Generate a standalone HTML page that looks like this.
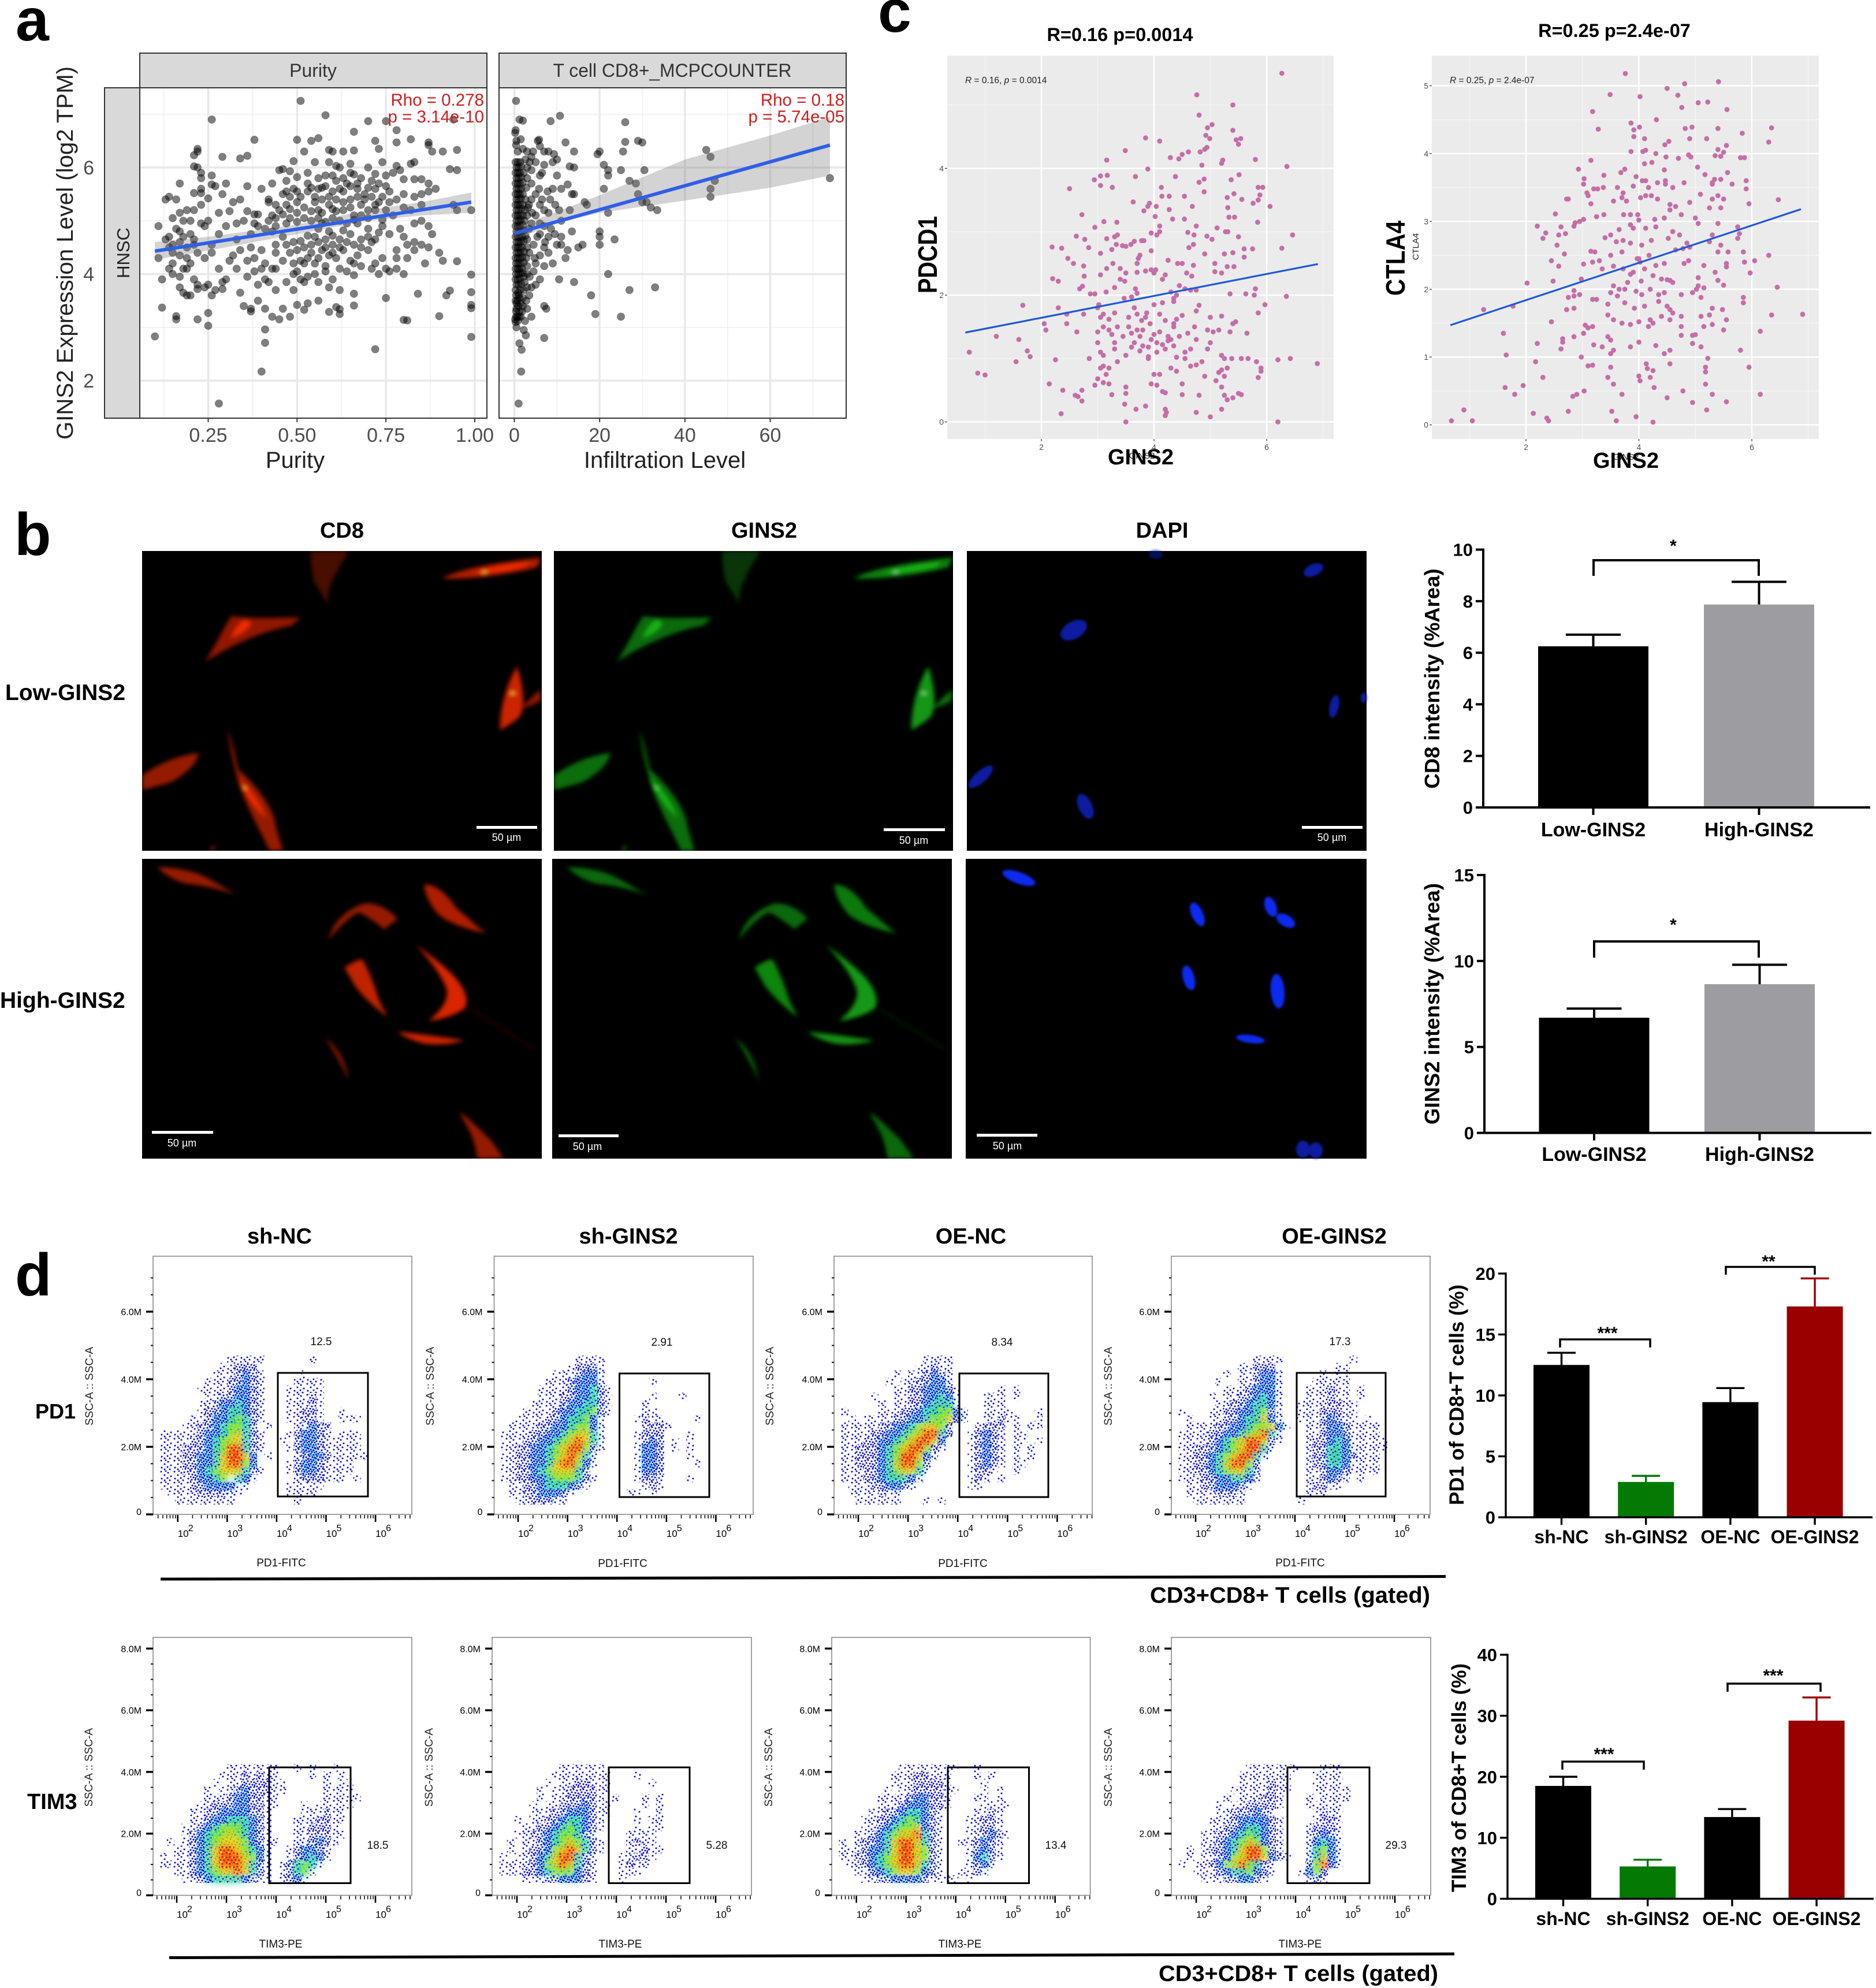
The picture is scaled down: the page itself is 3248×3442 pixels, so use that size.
<!DOCTYPE html>
<html lang="en">
<head>
<meta charset="utf-8">
<title>GINS2 figure</title>
<style>
html,body{margin:0;padding:0;background:#fff}
svg{display:block}
text{font-family:"Liberation Sans",sans-serif;fill:#000}
.b{font-weight:700}
.mid{text-anchor:middle}
.end{text-anchor:end}
.panel{font-size:104px;font-weight:700}
.grey{fill:#4d4d4d}
.red{fill:#cc1f1f;font-size:29.5px;text-anchor:end}
.fl{font-size:19px;text-anchor:middle;fill:#111}
.ssc{font-size:19px;text-anchor:middle;fill:#222}
.scale{font-size:18px;fill:#fff;text-anchor:middle}
.col{font-size:38px;font-weight:700;text-anchor:middle}
.lab{font-size:39px;font-weight:700}
.star{font-size:30px;font-weight:700;text-anchor:middle}
</style>
</head>
<body>
<svg id="figure" xmlns="http://www.w3.org/2000/svg" width="3248" height="3442" viewBox="0 0 3248 3442">
<defs>
<pattern id="flow-level-1" patternUnits="userSpaceOnUse" width="23" height="19"><path d="M3 2h.01M11 1h.01M15 4h.01M9 8h.01M20 10h.01M4 14h.01M14 13h.01M18 17h.01M9 17h.01" stroke="#0808d8" stroke-width="3" stroke-linecap="round"/></pattern>
<pattern id="flow-level-2" patternUnits="userSpaceOnUse" width="17" height="19"><path d="M2 2h.01M7 1h.01M13 3h.01M4 6h.01M10 7h.01M15 8h.01M1 10h.01M7 11h.01M12 12h.01M3 15h.01M9 16h.01M15 16h.01M6 18h.01M16 13h.01" stroke="#0606d4" stroke-width="3.1" stroke-linecap="round"/></pattern>
<pattern id="flow-level-3" patternUnits="userSpaceOnUse" width="13" height="17"><path d="M1 2h.01M5 1h.01M10 3h.01M3 5h.01M8 7h.01M12 8h.01M1 9h.01M5 11h.01M10 12h.01M2 14h.01M7 15h.01M12 16h.01" stroke="#0608d0" stroke-width="3.2" stroke-linecap="round"/><path d="M7 4h.01M11 5h.01M7 12h.01" stroke="#18c4ea" stroke-width="2.8" stroke-linecap="round"/></pattern>
<pattern id="flow-level-4" patternUnits="userSpaceOnUse" width="13" height="17"><path d="M2 3h.01M9 6h.01M4 11h.01M11 14h.01M7 16h.01" stroke="#0a22d0" stroke-width="3" stroke-linecap="round"/><path d="M6 2h.01M12 3h.01M2 8h.01M7 10h.01M12 9h.01M1 15h.01" stroke="#20d0a0" stroke-width="3" stroke-linecap="round"/></pattern>
<pattern id="flow-level-5" patternUnits="userSpaceOnUse" width="13" height="17"><path d="M2 3h.01M8 2h.01M12 7h.01M5 8h.01M1 12h.01M9 13h.01" stroke="#c8e428" stroke-width="3" stroke-linecap="round"/><path d="M10 10h.01M4 15h.01" stroke="#12a8c8" stroke-width="2.8" stroke-linecap="round"/></pattern>
<pattern id="flow-level-6" patternUnits="userSpaceOnUse" width="13" height="17"><path d="M3 2h.01M9 5h.01M2 9h.01M7 11h.01M12 14h.01" stroke="#f08a14" stroke-width="3" stroke-linecap="round"/><path d="M11 1h.01M5 15h.01" stroke="#48d840" stroke-width="2.8" stroke-linecap="round"/></pattern>
<pattern id="flow-level-7" patternUnits="userSpaceOnUse" width="13" height="17"><path d="M2 3h.01M8 2h.01M5 7h.01M11 8h.01M2 12h.01M8 14h.01" stroke="#e41410" stroke-width="3.2" stroke-linecap="round"/><path d="M12 3h.01M6 11h.01" stroke="#e8e428" stroke-width="2.8" stroke-linecap="round"/></pattern>
<filter id="soft" x="-20%" y="-20%" width="140%" height="140%"><feGaussianBlur stdDeviation="2.6 5"/></filter>
<filter id="soft-dapi" x="-30%" y="-30%" width="160%" height="160%"><feGaussianBlur stdDeviation="2"/></filter>
<filter id="flow-colour" x="-15%" y="-15%" width="130%" height="130%"><feGaussianBlur stdDeviation="6"/></filter>
<g id="cells-row-1" fill="currentColor">
<path d="M191 0L234 0C225 30 218 55 212 85L209 125C204 100 198 85 194 70C192 45 190 20 191 0Z" opacity=".3"/>
<path d="M339 65C360 40 400 28 451 15L447 38C420 52 380 66 339 65Z" opacity=".72"/><path d="M372 52C395 35 420 30 440 24L432 38C410 48 390 54 372 52Z"/>
<path d="M71 260C85 215 92 180 101 152C125 160 155 155 179 156L169 175C140 185 100 220 71 260Z" opacity=".6"/><path d="M100 205C104 185 108 170 116 160C130 165 120 190 100 205Z"/>
<path d="M405 420C404 380 410 320 424 270C430 310 434 350 428 385C422 400 412 410 405 420Z" opacity=".85"/>
<path d="M429 370C436 350 444 335 451 325L451 350C445 358 436 365 429 370Z" opacity=".6"/>
<path d="M0 560L0 525C15 505 35 480 64 473C62 500 50 520 34 540C20 550 8 555 0 560Z" opacity=".62"/>
<path d="M97 418C104 460 106 490 109 512C125 540 145 590 150 630C152 660 158 685 159 702L144 702C135 660 125 625 118 590C110 555 100 480 97 418Z" opacity=".62"/><path d="M108 530C120 550 135 590 140 625C130 610 115 570 108 530Z"/>
<path d="M75 702L82 685L82 702Z" opacity=".5"/>
<circle cx="387" cy="50" r="3" style="fill:var(--spot)"/><circle cx="419" cy="333" r="3" style="fill:var(--spot)"/><circle cx="116" cy="555" r="2.5" style="fill:var(--spot)"/>
</g>
<g id="cells-row-2" fill="currentColor">
<path d="M17 20C30 18 50 25 64 35C80 50 95 70 107 85C90 72 70 62 50 58C35 50 25 35 17 20Z" opacity=".62"/>
<path d="M211 190C215 150 230 120 250 105C265 100 280 120 289 140L274 165C265 150 255 135 245 125C235 135 222 160 211 190Z" opacity=".62"/>
<path d="M319 60C330 58 345 80 355 115C370 140 380 160 389 175C370 165 350 155 335 130C325 105 320 85 319 60Z" opacity=".72"/>
<path d="M229 255C235 245 245 235 249 235C256 260 262 290 268 330C272 350 276 360 277 370C265 350 250 325 240 295Z" opacity=".8"/>
<path d="M309 200C325 225 345 255 355 280C365 305 370 330 365 350C355 365 340 375 324 380C335 360 345 340 345 310C340 275 325 235 309 200Z" opacity=".9"/>
<path d="M369 350L444 445" stroke="currentColor" stroke-width="2" opacity=".3"/>
<path d="M289 405C305 408 325 412 364 425C350 435 330 437 318 432C305 425 295 415 289 405Z" opacity=".85"/>
<path d="M207 418C220 440 230 465 234 520C228 495 220 465 207 418Z" opacity=".5"/>
<path d="M359 592C372 612 385 640 395 660L409 702L379 702C378 680 375 660 372 645C368 625 362 610 359 592Z" opacity=".62"/>
</g>
</defs>

<rect width="3248" height="3442" fill="#fff"/>

<!-- PANEL LETTERS -->
<text class="panel" x="27" y="70">a</text>
<text class="panel" x="1520" y="55">c</text>
<text class="panel" x="25" y="961">b</text>
<text class="panel" x="26" y="2243">d</text>

<!-- PANEL A -->
<g>
<rect x="242" y="92" width="601" height="60" fill="#d9d9d9" stroke="#333" stroke-width="2"/>
<rect x="864" y="92" width="601" height="60" fill="#d9d9d9" stroke="#333" stroke-width="2"/>
<rect x="181" y="152" width="61" height="572" fill="#d9d9d9" stroke="#333" stroke-width="2"/>
<text class="mid" x="542" y="133" font-size="32" style="fill:#333">Purity</text>
<text class="mid" x="1164" y="133" font-size="32" textLength="413" lengthAdjust="spacingAndGlyphs" style="fill:#333">T cell CD8+_MCPCOUNTER</text>
<text class="mid" transform="translate(224,438) rotate(-90)" font-size="31" style="fill:#222">HNSC</text>
<text class="mid" transform="translate(126,438) rotate(-90)" font-size="40" textLength="646" lengthAdjust="spacingAndGlyphs" style="fill:#222">GINS2 Expression Level (log2 TPM)</text>
<g id="a1-plot"></g>
<g id="a2-plot"></g>
<rect x="242" y="152" width="601" height="572" fill="none" stroke="#333" stroke-width="2"/>
<rect x="864" y="152" width="601" height="572" fill="none" stroke="#333" stroke-width="2"/>
<text class="red" x="838" y="183">Rho = 0.278</text>
<text class="red" x="838" y="212">p = 3.14e-10</text>
<text class="red" x="1462" y="183">Rho = 0.18</text>
<text class="red" x="1462" y="212">p = 5.74e-05</text>
<text class="mid" x="511" y="810" font-size="40" style="fill:#222">Purity</text>
<text class="mid" x="1151" y="810" font-size="40" style="fill:#222">Infiltration Level</text>
</g>

<!-- PANEL C -->
<g>
<text class="b mid" x="1939" y="71" font-size="32.5">R=0.16 p=0.0014</text>
<text class="b mid" x="2795" y="64" font-size="32.5">R=0.25 p=2.4e-07</text>
<g id="c1-plot"></g>
<g id="c2-plot"></g>
<text x="1671" y="144" font-size="15.5" style="fill:#222"><tspan font-style="italic">R</tspan> = 0.16, <tspan font-style="italic">p</tspan> = 0.0014</text>
<text x="2510" y="144" font-size="15.5" style="fill:#222"><tspan font-style="italic">R</tspan> = 0.25, <tspan font-style="italic">p</tspan> = 2.4e-07</text>
<text class="mid" x="1977" y="794" font-size="15" style="fill:#222">GINS2</text>
<text class="mid" x="2815" y="796" font-size="15" style="fill:#222">GINS2</text>
<text class="mid" transform="translate(2456,427) rotate(-90)" font-size="15" style="fill:#222">CTLA4</text>
<text class="b mid" x="1975" y="804" font-size="38">GINS2</text>
<text class="b mid" x="2815" y="810" font-size="38">GINS2</text>
<text class="b mid" transform="translate(1622,441) rotate(-90)" font-size="46" textLength="134" lengthAdjust="spacingAndGlyphs">PDCD1</text>
<text class="b mid" transform="translate(2432,447) rotate(-90)" font-size="46" textLength="130" lengthAdjust="spacingAndGlyphs">CTLA4</text>
</g>

<!-- PANEL B IMAGES -->
<g>
<text class="col" x="592" y="931">CD8</text>
<text class="col" x="1323" y="931">GINS2</text>
<text class="col" x="2012" y="931">DAPI</text>
<text class="lab" x="9" y="1212">Low-GINS2</text>
<text class="lab" x="0" y="1745">High-GINS2</text>

<rect x="246" y="954" width="692" height="519" fill="#000"/>
<rect x="959" y="954" width="691" height="519" fill="#000"/>
<rect x="1674" y="954" width="692" height="519" fill="#000"/>
<rect x="246" y="1487" width="692" height="519" fill="#000"/>
<rect x="956" y="1487" width="692" height="519" fill="#000"/>
<rect x="1672" y="1487" width="694" height="519" fill="#000"/>

<svg x="246" y="954" width="692" height="519" viewBox="0 0 452 702" preserveAspectRatio="none"><use href="#cells-row-1" filter="url(#soft)" style="color:#f02a00;--spot:#ffd840"/></svg>
<svg x="959" y="954" width="691" height="519" viewBox="0 0 452 702" preserveAspectRatio="none"><use href="#cells-row-1" filter="url(#soft)" style="color:#14b014;--spot:#90ff90"/></svg>
<svg x="246" y="1487" width="692" height="519" viewBox="0 0 452 702" preserveAspectRatio="none"><use href="#cells-row-2" filter="url(#soft)" style="color:#f02a00;--spot:#ffd840"/></svg>
<svg x="956" y="1487" width="692" height="519" viewBox="0 0 452 702" preserveAspectRatio="none"><use href="#cells-row-2" filter="url(#soft)" style="color:#14a814;--spot:#90ff90"/></svg>

<g fill="#0a1ca0" filter="url(#soft-dapi)">
<ellipse cx="2001" cy="960" rx="12" ry="8" opacity=".55"/>
<ellipse transform="rotate(-25 2274 987)" cx="2274" cy="987" rx="18" ry="10"/>
<ellipse transform="rotate(-30 1859 1091)" cx="1859" cy="1091" rx="25" ry="15"/>
<ellipse transform="rotate(12 2310 1223)" cx="2310" cy="1223" rx="8" ry="20"/>
<ellipse cx="2361" cy="1208" rx="5" ry="9"/>
<ellipse transform="rotate(-42 1698 1345)" cx="1698" cy="1345" rx="27" ry="10"/>
<ellipse transform="rotate(-25 1879 1396)" cx="1879" cy="1396" rx="12" ry="23"/>
</g>
<g fill="#0a2cf0" filter="url(#soft-dapi)">
<ellipse transform="rotate(20 1764 1520)" cx="1764" cy="1520" rx="30" ry="10"/>
<ellipse transform="rotate(-25 2073 1583)" cx="2073" cy="1583" rx="10" ry="22"/>
<ellipse transform="rotate(-20 2200 1570)" cx="2200" cy="1570" rx="10" ry="18"/>
<ellipse transform="rotate(30 2226 1594)" cx="2226" cy="1594" rx="18" ry="10"/>
<ellipse transform="rotate(-15 2058 1693)" cx="2058" cy="1693" rx="10" ry="22"/>
<ellipse transform="rotate(-5 2212 1716)" cx="2212" cy="1716" rx="12" ry="30"/>
<ellipse transform="rotate(8 2165 1799)" cx="2165" cy="1799" rx="25" ry="7"/>
<ellipse cx="2256" cy="1990" rx="12" ry="15" fill="#0a1ca0"/>
<ellipse cx="2278" cy="1992" rx="12" ry="14" fill="#0a1ca0"/>
</g>

<rect x="825" y="1430" width="105" height="5" fill="#fff"/>
<text class="scale" x="877" y="1456">50 µm</text>
<rect x="1530" y="1434" width="106" height="5" fill="#fff"/>
<text class="scale" x="1582" y="1461">50 µm</text>
<rect x="2254" y="1430" width="105" height="5" fill="#fff"/>
<text class="scale" x="2306" y="1456">50 µm</text>
<rect x="263" y="1958" width="106" height="5" fill="#fff"/>
<text class="scale" x="315" y="1985">50 µm</text>
<rect x="967" y="1964" width="104" height="5" fill="#fff"/>
<text class="scale" x="1017" y="1991">50 µm</text>
<rect x="1691" y="1963" width="105" height="5" fill="#fff"/>
<text class="scale" x="1744" y="1990">50 µm</text>
</g>

<!-- PANEL B BARS -->
<g>
<g id="cd8-bars"></g>
<g id="gins2-bars"></g>
<text class="b mid" transform="translate(2492,1175) rotate(-90)" font-size="36" textLength="381" lengthAdjust="spacingAndGlyphs">CD8 intensity (%Area)</text>
<text class="b mid" transform="translate(2492,1738) rotate(-90)" font-size="36" textLength="418" lengthAdjust="spacingAndGlyphs">GINS2 intensity (%Area)</text>
<path d="M2759 997V970H3045V997" fill="none" stroke="#000" stroke-width="4"/>
<text class="star" x="2897" y="955">*</text>
<path d="M2760 1658V1630H3045V1658" fill="none" stroke="#000" stroke-width="4"/>
<text class="star" x="2897" y="1611">*</text>
</g>

<!-- PANEL D -->
<g>
<text class="col" x="484" y="2153">sh-NC</text>
<text class="col" x="1088" y="2153">sh-GINS2</text>
<text class="col" x="1681" y="2153">OE-NC</text>
<text class="col" x="2310" y="2153">OE-GINS2</text>
<text class="b" x="61" y="2456" font-size="36">PD1</text>
<text class="b" x="47" y="3132" font-size="38">TIM3</text>

<g id="flow-plots"></g>

<!-- gates -->
<g fill="none" stroke="#000" stroke-width="3">
<rect x="481" y="2377" width="156" height="214"/>
<rect x="1072.5" y="2378" width="155.5" height="214"/>
<rect x="1661" y="2378" width="154" height="214"/>
<rect x="2245" y="2377" width="154" height="214"/>
<rect x="466" y="3060" width="141" height="200.5"/>
<rect x="1054" y="3060" width="140" height="200.5"/>
<rect x="1641" y="3060" width="140.5" height="200.5"/>
<rect x="2229" y="3060" width="142" height="200.5"/>
</g>

<text class="fl" x="556" y="2329" font-size="18">12.5</text>
<text class="fl" x="1146" y="2330">2.91</text>
<text class="fl" x="1735" y="2330">8.34</text>
<text class="fl" x="2320" y="2329">17.3</text>
<text class="fl" x="654" y="3201">18.5</text>
<text class="fl" x="1241" y="3201">5.28</text>
<text class="fl" x="1828" y="3201">13.4</text>
<text class="fl" x="2417" y="3201">29.3</text>

<text class="fl" x="487" y="2712">PD1-FITC</text>
<text class="fl" x="1078" y="2713">PD1-FITC</text>
<text class="fl" x="1667" y="2713">PD1-FITC</text>
<text class="fl" x="2251" y="2712">PD1-FITC</text>
<text class="fl" x="486" y="3372">TIM3-PE</text>
<text class="fl" x="1074" y="3372">TIM3-PE</text>
<text class="fl" x="1662" y="3372">TIM3-PE</text>
<text class="fl" x="2251" y="3372">TIM3-PE</text>

<text class="ssc" transform="translate(161,2400) rotate(-90)">SSC-A :: SSC-A</text>
<text class="ssc" transform="translate(751,2400) rotate(-90)">SSC-A :: SSC-A</text>
<text class="ssc" transform="translate(1339,2400) rotate(-90)">SSC-A :: SSC-A</text>
<text class="ssc" transform="translate(1925,2400) rotate(-90)">SSC-A :: SSC-A</text>
<text class="ssc" transform="translate(160,3060) rotate(-90)">SSC-A :: SSC-A</text>
<text class="ssc" transform="translate(749,3060) rotate(-90)">SSC-A :: SSC-A</text>
<text class="ssc" transform="translate(1337,3060) rotate(-90)">SSC-A :: SSC-A</text>
<text class="ssc" transform="translate(1925,3060) rotate(-90)">SSC-A :: SSC-A</text>

<path d="M278 2734L2503 2729.5" stroke="#000" stroke-width="5" fill="none"/>
<path d="M293 3389.5L2518 3383" stroke="#000" stroke-width="5" fill="none"/>
<text class="b" x="1991" y="2775" font-size="39" textLength="485" lengthAdjust="spacingAndGlyphs">CD3+CD8+ T cells (gated)</text>
<text class="b" x="2006" y="3430" font-size="39" textLength="484" lengthAdjust="spacingAndGlyphs">CD3+CD8+ T cells (gated)</text>

<g id="pd1-bars"></g>
<g id="tim3-bars"></g>
<text class="b mid" transform="translate(2534,2415) rotate(-90)" font-size="35" textLength="382" lengthAdjust="spacingAndGlyphs">PD1 of CD8+T cells (%)</text>
<text class="b mid" transform="translate(2538,3078) rotate(-90)" font-size="35" textLength="396" lengthAdjust="spacingAndGlyphs">TIM3 of CD8+T cells (%)</text>
<path d="M2701 2333V2319H2857V2333" fill="none" stroke="#000" stroke-width="3.5"/>
<text class="star" x="2783" y="2318">***</text>
<path d="M2988 2207V2193.5H3142V2207" fill="none" stroke="#000" stroke-width="3.5"/>
<text class="star" x="3062" y="2194">**</text>
<path d="M2705 3064V3050H2846V3064" fill="none" stroke="#000" stroke-width="3.5"/>
<text class="star" x="2777" y="3047">***</text>
<path d="M2991 2929V2915H3152V2929" fill="none" stroke="#000" stroke-width="3.5"/>
<text class="star" x="3070" y="2911">***</text>
</g>
</svg>

<script>
/* ---------- panel a: purity scatter [purity, log2 TPM] ---------- */
const purityPoints=[[.28,1.57],[.10,2.83],[.40,2.17],[.41,2.71],[.41,2.96],[.72,2.59],[.99,2.82],[.25,3.03],[.22,3.15],[.16,3.15],[.16,3.21],[.12,3.37],[.25,3.27],[.35,3.40],[.37,3.35],[.39,3.5],[.37,3.3],[.41,3.35],[.43,3.2],[.45,3.15],[.46,3.35],[.48,3.2],[.50,3.42],[.52,3.33],[.53,3.45],[.56,3.5],[.59,3.29],[.61,3.38],[.62,3.25],[.62,3.34],[.66,3.41],[.66,3.63],[.75,3.55],[.80,3.14],[.81,3.13],[.84,3.63],[.90,3.21],[.92,3.6],[.93,3.69],[.99,3.36],[.99,3.42],[.99,3.66],[.99,3.99],[.95,4.24],
[.51,7.25],[.58,6.98],[.26,6.9],[.75,6.87],[.70,6.87],[.94,6.9],[.78,6.7],[.66,6.67],[.38,6.52],[.50,6.52],[.54,6.5],[.56,6.55],[.72,6.5],[.78,6.47],[.82,6.53],[.87,6.47],[.87,6.42],[.73,6.35],[.22,6.35],[.22,6.3],[.21,6.23],[.29,6.2],[.34,6.17],[.36,6.22],[.59,6.33],[.60,6.3],[.63,6.3],[.66,6.32],[.88,6.3],[.91,6.3],[.95,6.33],[.52,6.3],[.49,6.12],[.55,6.1],[.59,6.1],[.61,6.03],[.62,6.0],[.65,6.07],[.70,6.0],[.74,6.1],[.78,6.03],[.82,6.07],[.83,6.1],[.21,6.02],[.22,6.0],[.23,5.9],[.26,5.85],[.30,5.7],[.17,5.7],[.23,5.8],
[.45,5.95],[.46,5.97],[.48,5.93],[.66,5.87],[.68,5.8],[.72,5.88],[.75,5.85],[.77,5.9],[.79,5.95],[.80,5.78],[.83,5.78],[.85,5.78],[.87,5.7],[.93,5.97],[.95,5.95],[.21,5.52],[.23,5.6],[.23,5.52],[.26,5.68],[.29,5.5],[.27,5.65],[.13,5.4],[.14,5.45],[.16,5.4],[.25,5.42],[.42,5.4],[.42,5.35],[.44,5.3],[.46,5.5],[.47,5.75],[.49,5.6],[.5,5.55],[.51,5.45],[.53,5.7],[.54,5.62],[.56,5.6],[.57,5.62],[.58,5.65],[.60,5.55],[.62,5.6],[.63,5.55],[.64,5.7],[.65,5.65],[.67,5.7],[.69,5.5],[.7,5.62],[.72,5.6],[.74,5.45],[.76,5.55],[.78,5.4],[.8,5.5],[.83,5.45],[.85,5.5],[.87,5.55],[.89,5.6],[.94,5.3],[.95,5.2],[.99,5.2],
[.17,5.15],[.19,5.2],[.21,5.2],[.23,5.3],[.28,5.15],[.31,5.18],[.36,5.18],[.38,5.12],[.39,5.12],[.43,5.1],[.45,5.2],[.47,5.3],[.48,5.05],[.5,5.15],[.52,5.25],[.54,5.18],[.55,5.35],[.56,5.2],[.57,5.15],[.59,5.3],[.6,5.22],[.61,5.18],[.63,5.2],[.65,5.25],[.66,5.1],[.68,5.3],[.7,5.05],[.72,5.2],[.75,5.2],[.77,5.1],[.8,5.25],[.82,5.2],[.85,5.3],
[.11,4.9],[.13,4.65],[.14,4.7],[.16,4.85],[.17,4.8],[.18,4.7],[.2,4.75],[.21,4.65],[.23,4.95],[.24,4.9],[.26,4.55],[.28,4.75],[.33,4.65],[.37,4.5],[.38,4.95],[.39,4.9],[.41,4.85],[.43,4.8],[.44,4.9],[.46,4.7],[.47,4.95],[.49,4.6],[.51,4.62],[.53,4.72],[.55,4.7],[.56,4.85],[.57,4.95],[.58,4.65],[.59,4.8],[.6,4.72],[.62,4.5],[.63,4.82],[.65,4.75],[.67,4.95],[.68,4.5],[.7,4.85],[.71,4.6],[.73,4.78],[.74,4.9],[.76,4.75],[.78,4.45],[.8,4.7],[.81,4.55],[.83,4.6],[.85,4.55],[.87,4.5],[.88,4.75],
[.11,4.3],[.14,4.5],[.15,4.4],[.17,4.35],[.19,4.3],[.2,4.2],[.22,4.4],[.24,4.3],[.26,4.4],[.32,4.35],[.34,4.45],[.36,4.25],[.38,4.3],[.4,4.45],[.41,4.2],[.43,4.1],[.44,4.4],[.46,4.25],[.48,4.4],[.49,4.2],[.51,4.25],[.53,4.3],[.55,4.2],[.57,4.45],[.59,4.35],[.61,4.3],[.63,4.45],[.65,4.25],[.67,4.35],[.7,4.45],[.72,4.2],[.74,4.3],[.76,4.05],[.78,4.1],[.81,4.3],[.83,4.45],[.91,4.25],
[.12,3.9],[.15,4.0],[.17,3.95],[.19,4.1],[.21,3.9],[.22,3.8],[.24,3.75],[.25,3.8],[.29,3.85],[.3,3.9],[.39,3.8],[.41,3.9],[.44,4.1],[.47,3.85],[.49,3.7],[.5,4.05],[.51,3.9],[.52,3.85],[.55,4.0],[.58,4.05],[.6,3.9],[.66,3.98],[.73,4.0],[.75,4.1],[.8,4.0],[.17,3.75],[.18,3.65],[.19,3.6],[.2,3.6],[.22,3.72],[.29,3.72],[.34,3.65],
[.42,5.0],[.44,5.05],[.46,5.12],[.48,5.22],[.5,4.98],[.52,5.05],[.54,5.0],[.56,5.05],[.58,4.98],[.6,5.05],[.62,5.0],[.64,4.95],[.66,5.02],[.68,5.1],[.7,5.2],[.72,5.3],[.74,5.02],[.76,5.35],[.44,4.55],[.47,4.55],[.5,4.45],[.52,4.5],[.54,4.55],[.56,4.6],[.58,4.5],[.6,4.55],[.62,4.65],[.64,4.6],[.66,4.55],[.68,4.65],[.7,4.7],[.72,4.65],[.55,5.45],[.57,5.4],[.59,5.45],[.61,5.4],[.63,5.35],[.65,5.4],[.67,5.45],[.69,5.4],[.71,5.45],[.73,5.35],[.53,5.55],[.48,5.45],[.5,5.35],[.61,5.75],[.63,5.8],[.65,5.9],[.67,5.6],[.71,5.75],[.73,5.7],[.75,5.65],[.6,5.85],[.58,5.85],[.56,5.8],[.53,5.9],[.5,5.82],[.47,5.55],[.52,4.2],[.54,4.4],[.56,4.3],[.58,4.15],[.6,4.4],[.62,4.1],[.64,4.05],[.66,4.2],[.68,4.15],[.71,4.1],[.49,4.0],[.53,3.95],[.56,3.85],[.59,3.75],[.62,3.7],[.44,3.7],[.42,3.85],[.4,4.1],[.38,4.05],[.36,3.95],[.33,4.1],[.31,4.25],[.28,4.1],[.27,3.7],[.26,3.6],[.15,4.2],[.18,4.1],[.14,4.1],[.21,4.55],[.19,4.5],[.17,4.6],[.15,4.55],[.3,4.9],[.33,4.95],[.35,5.0],[.37,4.75],[.25,5.0],[.2,5.0],[.18,5.0],[.15,5.05],[.32,5.35],[.34,5.4],[.36,5.65],[.4,5.6],[.43,5.7],[.85,5.0],[.87,4.9],[.83,4.95],[.79,4.85],[.9,4.4],[.86,4.2],[.78,4.3]];
const purityLineX=[.1,.99];
const purityLineY=[4.43,5.35];
const purityRibbonX=[.1,.25,.5,.7,.85,.99];
const purityRibbonLow=[4.27,4.44,4.75,5.0,5.1,5.15];
const purityRibbonHigh=[4.6,4.7,4.93,5.2,5.35,5.53];
const purityTicks=[.25,.5,.75,1];
const purityTickLabels=['0.25','0.50','0.75','1.00'];
const purityMinorTicks=[.125,.375,.625,.875];
const expressionTicks=[2,4,6];
const expressionMinorTicks=[3,5,7];

/* ---------- panel a: CD8 infiltration scatter [level, log2 TPM] ---------- */
const infiltrationPoints=[[.4,7.25],[1.2,6.9],[2,6.88],[8.5,6.87],[10.7,6.97],[26,6.85],[.2,6.65],[.3,6.7],[1.5,6.53],[5.5,6.5],[5.8,6.52],[.5,6.5],[.4,6.42],[12,6.47],[14,6.3],[26,6.48],[29,6.5],[30,6.47],[.8,6.3],[2,6.35],[3,6.3],[6,6.4],[7,6.3],[8,6.3],[9.3,6.25],[20,6.3],[19.5,6.25],[25.5,6.3],[45,6.33],[46,6.2],[4,6.2],[5,6.1],[7,6.05],[9,6.1],[10,6.15],[13,6.02],[14,6.0],
[21,6.05],[22,5.95],[22,5.85],[25,5.95],[30.5,5.95],[21,5.6],[28.5,5.7],[29,5.5],[27,5.75],[46,5.6],[47,5.75],[46,5.45],[30,5.35],[31,5.35],[32,5.25],[33.5,5.2],[22,5.15],[16.5,5.35],[17,5.3],[14,5.5],[13.5,5.5],[20,4.8],[20,4.7],[20,4.55],[23.5,4.65],[22,4.0],[33,3.75],[27,3.7],[18,3.6],[19,3.25],[25,3.2],[14,3.85],[10.5,3.9],[74,5.8],
[1,1.57],[1.6,2.17],[1.7,2.58],[1.2,2.7],[2.7,2.85],[2.2,2.95],[7,2.8],[.5,3.0],[.3,3.1],[.8,3.12],[2.5,3.12],[1.5,3.2],[4,3.2],[.4,3.2],[1.2,3.3],[3,3.35],[7,3.4],[7.5,3.35],[.5,3.35],[2,3.4],
[.2,3.15],[.7,3.2],[1.1,3.2],[.4,3.3],[.9,3.4],[1.5,3.45],[.3,3.5],[.7,3.5],[1.2,3.55],[2,3.55],[2.8,3.5],[3.5,3.6],[.4,3.6],[.9,3.65],[1.4,3.7],[.3,3.7],[2.2,3.7],[3,3.75],[4,3.75],[.5,3.8],[1,3.8],[1.6,3.82],[5,3.8],[6,3.9],[.3,3.9],[.8,3.9],[1.3,3.92],[2.2,3.95],[.4,4.0],[.9,4.0],[1.4,4.02],[2,4.02],[3,4.0],[4.5,4.05],[.3,4.1],[.8,4.1],[1.2,4.1],[1.8,4.1],[3,4.15],[.4,4.2],[.9,4.2],[1.4,4.2],[2.2,4.22],[5,4.2],[7,4.15],[9,4.2],[.3,4.3],[.8,4.3],[1.3,4.3],[1.9,4.32],[2.8,4.3],[.5,4.4],[1,4.4],[1.5,4.4],[2.3,4.42],[3.5,4.4],[6,4.35],[8,4.4],[12,4.3],[.3,4.5],[.8,4.5],[1.2,4.5],[1.8,4.5],[3,4.5],[4.5,4.55],[7,4.5],[10,4.55],[15,4.5],[16,4.55],[.5,4.6],[1,4.6],[1.5,4.6],[2.2,4.62],[3,4.65],[.3,4.7],[.8,4.7],[1.2,4.7],[1.8,4.7],[2.6,4.72],[6,4.75],[8,4.7],[11,4.7],[13.5,4.8],[.5,4.8],[1,4.8],[1.5,4.82],[2.2,4.82],[3.5,4.85],[.3,4.9],[.8,4.9],[1.3,4.9],[2,4.92],[4,4.95],[7,4.9],[11,5.0],[.5,5.0],[1,5.0],[1.5,5.02],[2.4,5.0],[.3,5.1],[.8,5.1],[1.3,5.1],[2,5.1],[3,5.1],[5,5.1],[8,5.15],[10.5,5.2],[13,5.2],[.5,5.2],[1,5.2],[1.6,5.22],[2.5,5.2],[.3,5.3],[.8,5.3],[1.3,5.3],[2,5.3],[3.4,5.3],[6,5.3],[6.5,5.4],[.5,5.4],[1,5.4],[1.5,5.42],[2.6,5.4],[4,5.4],[.3,5.5],[.8,5.5],[1.3,5.5],[2,5.5],[.5,5.6],[1,5.6],[1.6,5.6],[2.8,5.62],[9,5.6],[11,5.6],[12.5,5.68],[.3,5.7],[.8,5.7],[1.3,5.7],[2,5.72],[4,5.7],[.5,5.8],[1,5.8],[1.6,5.82],[3,5.8],[.3,5.9],[.8,5.9],[1.3,5.9],[2.2,5.9],[.5,6.0],[1,6.0],[1.6,6.02],[.3,6.1],[.8,6.1],[1.4,6.1],[3,6.0],[6.5,5.9],[6,5.85],[4,5.95],[10,5.85],[.5,3.45],[1,3.6],[1.8,3.3],[2.4,3.85],[3.6,3.95],[4.8,4.3],[5.4,4.7],[6,4.95],[7.2,4.6],[8.6,4.85],[9.5,4.75],[11,4.55],[12.5,4.45],[3.2,5.25],[4.2,5.15],[5,5.5],[5.8,5.6],[7,5.2],[7.8,5.55],[8.4,5.4],[9.6,5.3],[3.6,6.1],[4.4,6.3],[2.6,6.15]];
const infiltrationLineX=[0,74];
const infiltrationLineY=[4.76,6.42];
const infiltrationRibbonX=[0,10,20,40,60,74];
const infiltrationRibbonLow=[4.65,4.95,5.15,5.38,5.62,5.85];
const infiltrationRibbonHigh=[4.87,5.17,5.48,6.15,6.6,6.95];
const infiltrationTicks=[0,20,40,60];
const infiltrationMinorTicks=[10,30,50,70];

/* ---------- panel c: PDCD1 vs GINS2 ---------- */
const pdcd1Points=[[6.27,5.5],[4.76,5.16],[5.4,5],[4.8,4.84],[5.03,4.69],[4.95,4.64],[5.4,4.6],[4.92,4.52],[3.85,4.48],[4.1,4.43],[4.99,4.47],[5.54,4.47],[5.46,4.45],[5.5,4.38],[3.49,4.28],[4.94,4.33],[4.9,4.3],[4.82,4.26],[4.61,4.26],[4.5,4.22],[4.29,4.17],[4.44,4.15],[3.16,4.13],[5.22,4.13],[5.2,4.08],[5.8,4.14],[4.85,4.05],[6.36,4.03],[3.89,3.99],[3.05,3.88],[3.17,3.89],[2.94,3.82],[3.67,3.87],[4.38,3.87],[5.51,3.9],[5.37,3.82],[4.89,3.83],[4.8,3.78],[3.05,3.73],[4.13,3.7],[3.26,3.7],[2.5,3.68],[5.85,3.7],[5.93,3.7],[4.89,3.63],[5.88,3.58],[5.42,3.6],[4.54,3.56],[4.14,3.56],[4.27,3.56],[5.3,3.54],[5.56,3.51],[5.85,3.5],[3.63,3.47],[3.92,3.45],[5.76,3.45],[3.89,3.4],[4.04,3.4],[4.68,3.4],[6.06,3.4],[5.31,3.38],[3.82,3.33],[4.27,3.35],[2.72,3.27],[4.02,3.24],[5.33,3.23],[5.43,3.23],[4.54,3.2],[4.33,3.2],[3.11,3.16],[3.34,3.15],[5.84,3.15],[2.95,3.07],[4.75,3.09],[4.1,3.09],[5.12,3.06],[4.1,3],[3.95,2.98],[4.05,2.95],
[5.27,3],[5.31,3],[4.6,2.99],[4.71,2.95],[3.35,2.95],[3.3,2.92],[6.46,2.95],[2.62,2.93],[2.77,2.88],[3.16,2.89],[3.65,2.85],[3.78,2.86],[3.82,2.86],[4.94,2.93],[5.03,2.88],[5.5,2.92],[5.08,2.5],[3.59,2.8],[3.5,2.77],[3.33,2.8],[2.19,2.76],[2.36,2.74],[4.7,2.8],[4.62,2.75],[2.84,2.75],[3.25,2.72],[3.44,2.78],[5.6,2.73],[5.75,2.73],[6.27,2.74],[4.9,2.65],[5.25,2.65],[5.4,2.67],[5.6,2.6],[3.05,2.66],[3.75,2.63],[3.95,2.7],[4.25,2.55],[3.72,2.58],[2.47,2.58],[2.57,2.5],[2.75,2.46],[3.27,2.5],[3.7,2.5],[4.42,2.5],[4.5,2.5],[4.7,2.47],[5.3,2.45],[5.42,2.45],[3.16,2.42],[3.4,2.42],[3.95,2.4],[4.03,2.4],[4,2.35],[3.85,2.38],[3.7,2.36],[2.76,2.3],[3.05,2.32],[3.5,2.35],[4.58,2.35],[4.2,2.32],[4.67,2.3],[5.08,2.37],[5.2,2.35],[4.15,2.25],[3.4,2.25],[3.48,2.22],[2.73,2.14],[2.68,2.1],[3.3,2.12],[2.2,2.26],[2.3,2.22],[3.67,2.1],[3.7,2.03],[4.45,2.15],[4.55,2.1],[4.65,2.08],[4.75,2.08],[2.87,2.02],[2.95,2.02],[3.15,2.05],[3.6,1.97],[3.47,1.95],[5.35,2.02],[5.63,2.02],[5.8,2.1],[5.78,2],[6.35,1.98],[4.3,2.05],[4.4,2],[4.35,1.95],[5.97,1.85],[5.85,1.72],
[3.02,1.85],[3,1.8],[3.1,1.7],[2.3,1.8],[1.67,1.84],[2.45,1.7],[2.75,1.7],[3.05,1.65],[3.65,1.8],[3.87,1.72],[4,1.85],[4.15,1.88],[4.35,1.9],[4.8,1.84],[4.75,1.75],[4.5,1.68],[4.1,1.7],[3.85,1.65],[3.78,1.6],[3.93,1.55],[4.2,1.6],[5,1.65],[5.2,1.67],[5.4,1.55],[5.45,1.58],[3.1,1.5],[2.45,1.55],[2.05,1.55],[2.08,1.45],[2.63,1.42],[3.2,1.45],[3.55,1.5],[3.7,1.45],[4.35,1.55],[4.35,1.5],[4.72,1.5],[4.95,1.45],[5.05,1.42],[5.15,1.45],[5.35,1.42],[5.65,1.4],[3.0,1.42],[3.25,1.38],[3.6,1.4],[3.75,1.35],[4,1.38],[4.25,1.35],[4.3,1.3],[4.45,1.35],[4.75,1.3],[5.0,1.25],[1.2,1.35],[1.6,1.3],[3.0,1.25],[3.3,1.25],[3.65,1.25],[3.8,1.2],[4.05,1.25],[4.15,1.22],[4.25,1.28],[4.65,1.15],[4.55,1.1],[3.3,1.15],[3.75,1.12],[4.05,1.1],[4.95,1.15],[1.75,1.12],[.72,1.1],[1.8,1.03],[3.05,1.1],[3.1,1.05],[2.85,1],[3.5,1.05],[3.9,1.03],[3.9,1],[4.4,1.02],[4.55,1],[5.2,1.05],[5.25,1],[5.38,1],[5.55,1],[5.67,1],[2.25,.98],[1.55,.95],[3.35,.95],[4.85,.95],[5.82,.95],[6.2,.98],[6.42,1],[6.9,.92],[3.1,.88],[3.05,.85],[3.2,.85],[4.3,.85],[4.65,.88],[4.75,.9],[5.2,.82],[5.3,.85],[5.9,.85],[3.15,.75],[4.4,.8],[5.15,.78],[5.25,.72],[5.9,.8],[.87,.77],[1,.74],[4,.75],[4.1,.75],[4.9,.72],[5.1,.65],[5.85,.7],[3,.68],[3.1,.62],[3.2,.6],[3.95,.6],[4.05,.58],[4.5,.6],[2.14,.6],[2.95,.58],[3.5,.55],[5.2,.55],[2.38,.5],[2.72,.5],[2.6,.42],[2.65,.4],[3.25,.43],[3.5,.45],[4.15,.48],[4.2,.46],[4.5,.43],[4.8,.42],[5.25,.42],[5.4,.38],[5.5,.45],[5.55,.43],[2.72,.33],[3.48,.28],[3.68,.2],[3.85,.25],[4.2,.2],[4.22,.15],[4.2,.1],[4.75,.15],[5.0,.08],[5.2,.2],[5.3,.35],[2.35,.13],[3.5,0],[6.2,0],[3.8,1.45],[3.95,1.3],[4.1,1.42],[4.2,1.15],[4.35,1.2],[3.6,1.18],[3.45,1.35],[3.35,1.5],[3.2,1.62],[3.9,1.18],[4.4,1.62],[4.6,1.4],[3.7,1.7],[3.3,1.72],[3.55,1.65]];
const pdcd1LineX=[.65,6.91];
const pdcd1LineY=[1.41,2.49];
const pdcd1MajorX=[2,4,6];
const pdcd1MinorX=[1,3,5,7];
const pdcd1MajorY=[0,2,4];
const pdcd1MinorY=[1,3,5];

/* ---------- panel c: CTLA4 vs GINS2 ---------- */
const ctla4Points=[[3.76,5.18],[5.41,5.06],[4.5,4.96],[4.81,5.03],[3.49,4.87],[4.02,4.84],[4.69,4.86],[5.05,4.75],[5.22,4.76],[4.76,4.68],[5.56,4.65],[3.18,4.62],[4.31,4.5],[3.86,4.45],[4.01,4.39],[3.91,4.35],[3.28,4.36],[4.82,4.37],[4.94,4.39],[5.4,4.37],[6.35,4.38],[5.83,4.3],[3.91,4.25],[4.1,4.22],[4.9,4.22],[5.2,4.22],[6.3,4.17],[4.53,4.18],[4.46,4.13],[5.55,4.12],[5.4,4.06],[3.86,4.03],[4.07,4.03],[4.12,4.05],[4.3,4],[5.5,4.02],[4.88,3.98],[5.35,3.97],[5.45,3.96],[5.8,3.94],[5.87,3.94],[4.48,3.95],[4.7,3.93],[3.15,3.9],[4.92,3.95],[4.1,3.85],[4.23,3.87],[5.04,3.8],[2.93,3.77],[4.45,3.76],[3.68,3.72],[3.75,3.77],[5.17,3.69],[5.57,3.72],[3.38,3.68],[3.95,3.66],[3.03,3.63],[4.06,3.6],[4.12,3.6],[5.34,3.62],[5.45,3.62],[5.9,3.6],[3.27,3.48],[4.33,3.57],[4.47,3.55],[4.8,3.57],[5.3,3.57],[5.65,3.55],[3.02,3.55],[3.2,3.48],[3.37,3.5],[3.62,3.5],[3.9,3.52],[4.17,3.5],[4.47,3.6],[4.6,3.5],[5.3,3.55],[5.9,3.48],[3.72,3.42],[3.08,3.42],[3.1,3.38],[4.12,3.38],[4.22,3.38],[5.09,3.4],[5.4,3.38],[5.5,3.33],[2.72,3.33],[2.75,3.33],[3.7,3.35],[3.55,3.3],[4.03,3.35],[4.33,3.33],[5.3,3.33],[6.47,3.32],[3.15,3.26],[3.78,3.3],[4.9,3.28],[5.95,3.26],[2.52,3.11],[3.38,3.1],[3.25,3.07],[3.73,3.1],[3.85,3.1],[3.98,3.1],[4.55,3.25],[4.55,3.17],[4.65,3.22],[4.75,3.1],[5.0,3.05],[5.25,3.2],[5.45,3.2],[2.87,2.98],[2.95,3],[3.02,3.03],[4.0,3.02],[4.28,3.03],[4.45,3.05],[5.05,2.97],[5.4,2.97],[5.75,2.92],[2.2,2.93],[2.62,2.92],[2.85,2.93],[3.5,2.8],[3.65,2.88],[3.85,2.95],[3.9,2.9],[4.12,2.9],[4.3,2.92],[4.6,2.85],[4.72,2.8],[5.3,2.8],[5.78,2.82],[2.35,2.83],[2.7,2.82],[2.58,2.8],[3.4,2.76],[3.6,2.7],[3.72,2.72],[3.85,2.68],[4.05,2.65],[4.22,2.72],[4.52,2.75],[4.85,2.68],[4.9,2.62],[5.25,2.7],[5.45,2.65],[5.75,2.75],[2.3,2.75],[2.55,2.65],[3.15,2.56],[3.22,2.55],[3.5,2.5],[3.7,2.55],[3.97,2.45],[4.18,2.5],[4.65,2.58],[4.78,2.6],[5.4,2.55],[5.58,2.55],[5.85,2.55],[6.3,2.5],[2.68,2.52],[2.45,2.42],[3.02,2.37],[3.18,2.4],[3.3,2.42],[3.55,2.34],[3.85,2.22],[4,2.45],[4.02,2.4],[4.3,2.35],[4.45,2.38],[4.8,2.38],[4.88,2.42],[5.15,2.35],[5.55,2.38],[5.87,2.4],[6.05,2.42],[2.58,2.34],[3.35,2.3],[3.72,2.3],[3.9,2.25],[4.1,2.3],[4.25,2.2],[4.4,2.15],[4.5,2.14],[5.05,2.17],[5.35,2.25],[5.55,2.33],[5.97,2.24],[2.48,2.12],[2.98,2.15],[3.55,2.05],[3.65,2],[3.75,2],[3.8,2.1],[4.04,2.12],[4.55,2.13],[4.6,2.1],[5.05,2.05],[5.15,2.02],[5.4,2.13],[5.5,2.06],[6.45,2.03],[2.02,2.09],[2.85,1.98],[3.5,1.95],[3.62,1.9],[3.95,1.97],[4.05,1.92],[4.2,2],[4.35,1.92],[4.45,1.95],[4.75,1.92],[4.95,1.95],[5.02,2],[5.1,1.88],[5.85,1.88],[2.75,1.88],[2.85,1.9],[2.95,1.92],[3.18,1.85],[3.25,1.85],[4.35,1.82],[4.5,1.75],[4.55,1.7],[5.48,1.7],[5.85,1.8],[1.25,1.7],[1.77,1.75],[3.45,1.78],[3.75,1.8],[3.92,1.72],[4.1,1.75],[4.6,1.65],[4.75,1.6],[5.1,1.6],[5.25,1.62],[5.3,1.72],[5.55,1.55],[6.35,1.62],[6.9,1.63],[2.72,1.7],[2.85,1.72],[2.45,1.52],[3.45,1.62],[3.55,1.55],[3.7,1.5],[3.85,1.48],[4,1.52],[4.2,1.55],[4.25,1.5],[4.17,1.45],[4.4,1.6],[4.55,1.55],[4.75,1.45],[5.0,1.33],[5.15,1.45],[5.3,1.48],[5.5,1.4],[6.15,1.38],[1.6,1.35],[3.05,1.47],[3.1,1.43],[3.18,1.45],[3.02,1.35],[2.65,1.27],[2.65,1.22],[2.85,1.3],[3.45,1.3],[3.5,1.25],[4.75,1.32],[4.95,1.32],[2.2,1.2],[3.2,1.18],[3.35,1.15],[3.55,1.1],[4,1.22],[3.85,1.15],[4.3,1.17],[4.45,1.05],[4.55,1.1],[4.95,1.2],[5.1,1.15],[5.8,1.1],[1.65,1.03],[2.62,1.12],[2.98,1],[3.1,.87],[3.18,.88],[3.5,1.05],[4.13,.9],[4.15,.83],[4.25,.8],[4.55,.9],[5.22,.98],[2.17,.93],[3.5,.85],[5.18,.85],[5.18,.78],[5.95,.85],[2.3,.7],[3.45,.7],[3.55,.6],[4,.72],[4.02,.65],[4.2,.7],[4.27,.55],[4.5,.4],[4.78,.5],[1.95,.58],[1.63,.55],[1.8,.45],[3.03,.5],[2.9,.45],[2.83,.42],[3.7,.45],[5.18,.6],[5.3,.45],[6.15,.45],[4.95,.33],[5.55,.34],[2.75,.2],[3.52,.2],[5.2,.22],[.9,.22],[2.13,.17],[2.37,.1],[2.4,.06],[1.05,.06],[.68,.06],[3.6,.06],[3.95,.12],[4.25,.04]];
const ctla4LineX=[.66,6.87];
const ctla4LineY=[1.47,3.18];
const ctla4MajorX=[2,4,6];
const ctla4MinorX=[1,3,5,7];
const ctla4MajorY=[0,1,2,3,4,5];
const ctla4MinorY=[.5,1.5,2.5,3.5,4.5];

/* ---------- bar charts ---------- */
const intensityCategories=['Low-GINS2','High-GINS2'];
const cd8Values=[6.25,7.87];
const cd8Errors=[.45,.88];
const cd8Ticks=[0,2,4,6,8,10];
const gins2IntensityValues=[6.7,8.65];
const gins2IntensityErrors=[.53,1.13];
const gins2IntensityTicks=[0,5,10,15];
const knockCategories=['sh-NC','sh-GINS2','OE-NC','OE-GINS2'];
const pd1Values=[12.5,2.9,9.45,17.3];
const pd1Errors=[1.0,.5,1.15,2.3];
const pd1BarTicks=[0,5,10,15,20];
const tim3Values=[18.5,5.3,13.4,29.2];
const tim3Errors=[1.5,1.1,1.3,3.8];
const tim3BarTicks=[0,10,20,30,40];

/* ---------- flow cytometry density (0-7), rows top to bottom, columns by log fluorescence ---------- */
const flowDecades=[2,3,4,5,6];
const pd1FlowTicks=[0,2,4,6];
const tim3FlowTicks=[0,2,4,6,8];
const pd1ShNcDensity=["..........11111......1",".........11222","........1112321.....1",".......11122321....1111","......111123321...11111",".......11223321...11121","......112334321...11121","......122344321...11221..1",".....1123345421...11221..111","....1122345542 1...11322",".11111233456421...123321.111",".11112234566421..1.233211111",".11122234577421...1233211111",".1112233467763 1...1233211111",".1112233467753....123321111",".11122345666421...123321111",".111123345 431.....1222111.1",".111122333311.....11111","..1111222211......1111","...11111111........1"];
const pd1ShGins2Density=["...........1111","..........12221","........1112331",".......11123331......1","......1111233421","......1112233421.....1...1",".....11112334421....1","....111123344521....11","...111122344531....1211....1","..1111223345531.....1221",".11112233456641....1222...1",".11122334567641....1232.1.1",".11223345677521....1332.1.1",".1122334567641.....1332...1",".1122334677531.....1332....1",".112234566642......1332",".1122334555421.....1221...1","..11223444321.......121","..112233321.......11.1","...1122211"];
const pd1OeNcDensity=["............1111","...........11211","........1.112321",".......1.1122331","........112233321.....1.1",".....1..112233431...111.1","......1.112234441...111",".1....111223445531..1111...1","..1.11112233455631..11211..1",".111112233456652...1222.1.11",".111122334567742..12321.11",".11122334567763...12321.11.1",".11222345677521...12321.1.1",".1122234577631....12321.1.1",".112223467752.....12321.11",".111223456641.....1221..1",".11122344431......121.1","..111223321.......11","..1111211","...111111...1.1"];
const pd1OeGins2Density=["...........1111.........1",".........11222........11",".......1.112331.....1.11","......1..112331....11111",".......11123331...111211.1",".....1.11223431...111211.1","......112234431..11112211",".1...1122334521..11122211","..1..1122344631..11123211.1","..11112233455631..1123321111",".11112233456741...1123321111",".11112345677621...12234311111",".1122234567741....12244311111",".112234567741.....1224432111",".11223467752......1224431111",".11223456642......1123321111",".11122334431......112321.1","..112233321.......12211","..11112221........111","...1111111.......1"];
const tim3ShNcDensity=["..........1111111..1.1..1",".........11121211....1.1.1","........1.11222211.....1.11",".......1.112322211.....1111",".......1112332211......11111","......11222332211...1.11111",".....11223333221....111211",".....11233444321...1112211","....112345554321...112221","....123455654321...1122211","..1.1234566653211..112321","...1123467765431..123321",".1.1123467776531..123431",".111123467776421.124541","...1123456676421.12451","....112344443211.1231"];
const tim3ShGins2Density=[".........111111","........11111111...1",".......1.1122111.....1","......1.11222211","......1.1122221.1...1.1",".....1.112223211....1.1",".....11122333211...1..1","...1.1122344321....1.11","....11223454321....1.11","...11223455421....1111","..1.11234565421...1211","..1.12235676421...11211",".1.11234677421...11221",".1111235676421...1211",".1112234555321...111","....1112233321...1"];
const tim3OeNcDensity=[".........11111111..1","........11122111...1.1","........11122221....1",".......1.11222211...1.1","......1111233221...11.1","......1112333221....1111",".....1122344321....1121","....11223454321...11221","....11234556321...11221","...112345667421...112321",".1.122346776421..112321",".11123346776521...12321",".11223456776521...13421","..1123456776421...1231","...112345665321..1121","....1122333321111.1"];
const tim3OeGins2Density=["..........1111111...111",".........1111111...1111",".........1111211...1111","........11111211...11111",".......1.111221...1.1111","......1.1122221...11111","......11222321.....1211",".....1112333321....1221",".....1122344321...12221","....11223454321...12321","....11234565321...13431","..1.12234677521...14531","..1.112356776321..14631",".1.11235675421....25731","...11123445321...1352","....111223321.....121"];

/* ---------- helpers ---------- */
const NS='http://www.w3.org/2000/svg';
function mk(tag,attrs,parent,txt){
  const el=document.createElementNS(NS,tag);
  for(const k in attrs) el.setAttribute(k,attrs[k]);
  if(txt!==undefined) el.textContent=txt;
  parent.appendChild(el);
  return el;
}
function linear(d0,r0,d1,r1){return v=>r0+(v-d0)*(r1-r0)/(d1-d0);}
const $=id=>document.getElementById(id);

/* ---------- scatter panels a ---------- */
function drawFacet(gid,key,xScale,yScale,L,R,T,B,majorX,minorX,xLabels,pts,lineX,lineY,ribX,ribLow,ribHigh,showY){
  const g=$(gid);
  minorX.forEach(v=>{
    const l=mk('line',{x1:xScale(v),x2:xScale(v),y1:T,y2:B,stroke:'#f0f0f0','stroke-width':1.8},g);
    
    
  });
  expressionMinorTicks.forEach(v=>{
    const l=mk('line',{x1:L,x2:R,y1:yScale(v),y2:yScale(v),stroke:'#f0f0f0','stroke-width':1.8},g);
    
    
  });
  majorX.forEach((v,i)=>{
    const l=mk('line',{x1:xScale(v),x2:xScale(v),y1:T,y2:B,stroke:'#e8e8e8','stroke-width':3.4},g);
    
    
    const t=mk('line',{x1:xScale(v),x2:xScale(v),y1:B,y2:B+8,stroke:'#333','stroke-width':2},g);
    
    
    const lab=mk('text',{x:xScale(v),y:765,'font-size':34,class:'mid grey'},g,xLabels[i]);
    
    
  });
  expressionTicks.forEach(v=>{
    const l=mk('line',{x1:L,x2:R,y1:yScale(v),y2:yScale(v),stroke:'#e8e8e8','stroke-width':3.4},g);
    
    
    if(showY){
      const lab=mk('text',{x:163,y:yScale(v)+12,'font-size':34,class:'end grey'},g,String(v));
      
      
    }
  });
  pts.forEach(p=>{
    const c=mk('circle',{cx:xScale(p[0]),cy:yScale(p[1]),r:6.6,fill:'rgba(0,0,0,.5)',stroke:'rgba(0,0,0,.25)','stroke-width':1},g);
    
    
  });
  let d='';
  ribX.forEach((v,i)=>{d+=(i?'L':'M')+xScale(v)+' '+yScale(ribHigh[i]);});
  for(let i=ribX.length-1;i>=0;i--){d+='L'+xScale(ribX[i])+' '+yScale(ribLow[i]);}
  const rib=mk('path',{d:d+'Z',fill:'rgba(110,110,110,.3)'},g);
  
  
  const ln=mk('line',{x1:xScale(lineX[0]),y1:yScale(lineY[0]),x2:xScale(lineX[1]),y2:yScale(lineY[1]),stroke:'#2f5fe8','stroke-width':6},g);
  
  
}
const expressionY=linear(2,659,6,290);
drawFacet('a1-plot','purity',linear(.25,360.5,1,822),expressionY,243,842,153,723,purityTicks,purityMinorTicks,purityTickLabels,purityPoints,purityLineX,purityLineY,purityRibbonX,purityRibbonLow,purityRibbonHigh,true);
drawFacet('a2-plot','infiltration',linear(0,890.5,60,1333.5),expressionY,865,1464,153,723,infiltrationTicks,infiltrationMinorTicks,infiltrationTicks.map(String),infiltrationPoints,infiltrationLineX,infiltrationLineY,infiltrationRibbonX,infiltrationRibbonLow,infiltrationRibbonHigh,false);

/* ---------- scatter panels c ---------- */
function drawGG(gid,key,xScale,yScale,L,R,T,B,majX,minX,majY,minY,pts,lineX,lineY){
  const g=$(gid);
  const bg=mk('rect',{x:L,y:T,width:R-L,height:B-T,fill:'#ebebeb'},g);
  
  
  minX.forEach(v=>{
    const l=mk('line',{x1:xScale(v),x2:xScale(v),y1:T,y2:B,stroke:'#f6f6f6','stroke-width':1.3},g);
    
    
  });
  minY.forEach(v=>{
    const l=mk('line',{x1:L,x2:R,y1:yScale(v),y2:yScale(v),stroke:'#f6f6f6','stroke-width':1.3},g);
    
    
  });
  majX.forEach(v=>{
    const l=mk('line',{x1:xScale(v),x2:xScale(v),y1:T,y2:B,stroke:'#fff','stroke-width':2.4},g);
    
    
    const tk=mk('line',{x1:xScale(v),x2:xScale(v),y1:B,y2:B+4,stroke:'#333','stroke-width':1.2},g);
    
    
    const lab=mk('text',{x:xScale(v),y:B+19,'font-size':14,class:'mid grey'},g,String(v));
    
    
  });
  majY.forEach(v=>{
    const l=mk('line',{x1:L,x2:R,y1:yScale(v),y2:yScale(v),stroke:'#fff','stroke-width':2.4},g);
    
    
    const tk=mk('line',{x1:L-4,x2:L,y1:yScale(v),y2:yScale(v),stroke:'#333','stroke-width':1.2},g);
    
    
    const lab=mk('text',{x:L-6,y:yScale(v)+5,'font-size':14,class:'end grey'},g,String(v));
    
    
  });
  pts.forEach(p=>{
    const c=mk('circle',{cx:xScale(p[0]),cy:yScale(p[1]),r:4.4,fill:'#c56ea6'},g);
    
    
  });
  const ln=mk('line',{x1:xScale(lineX[0]),y1:yScale(lineY[0]),x2:xScale(lineX[1]),y2:yScale(lineY[1]),stroke:'#2058dc','stroke-width':3.2},g);
  
  
}
drawGG('c1-plot','pdcd1',linear(2,1803,6,2193),linear(0,730.5,4,291.5),1640,2309,96.5,760,pdcd1MajorX,pdcd1MinorX,pdcd1MajorY,pdcd1MinorY,pdcd1Points,pdcd1LineX,pdcd1LineY);
drawGG('c2-plot','ctla4',linear(2,2642,6,3033),linear(0,735.6,5,148.5),2479,3149,96.5,760,ctla4MajorX,ctla4MinorX,ctla4MajorY,ctla4MinorY,ctla4Points,ctla4LineX,ctla4LineY);

/* ---------- bar charts ---------- */
function drawBars(gid,key,cats,vals,errs,ticks,colors,errColors,o){
  const g=$(gid);
  const y=linear(0,o.y0,o.refVal,o.refY);
  vals.forEach((v,i)=>{
    const cx=o.first+i*o.step;
    const top=y(v+errs[i]);
    const stem=mk('line',{x1:cx,x2:cx,y1:top,y2:y(v),stroke:errColors[i],'stroke-width':o.lw},g);
    
    
    const cap=mk('line',{x1:cx-o.capW/2,x2:cx+o.capW/2,y1:top,y2:top,stroke:errColors[i],'stroke-width':o.lw},g);
    
    
    const bar=mk('rect',{x:cx-o.barW/2,y:y(v),width:o.barW,height:o.y0-y(v),fill:colors[i]},g);
    
    
    const tk=mk('line',{x1:cx,x2:cx,y1:o.y0,y2:o.y0+13,stroke:'#000','stroke-width':o.lw},g);
    
    
    const lab=mk('text',{x:cx,y:o.labelY,'font-size':o.labelFont,class:'b mid'},g,cats[i]);
    
    
  });
  ticks.forEach(v=>{
    const tk=mk('line',{x1:o.axisX-13,x2:o.axisX,y1:y(v),y2:y(v),stroke:'#000','stroke-width':o.lw},g);
    
    
    const lab=mk('text',{x:o.axisX-18,y:y(v)+11,'font-size':31,class:'b end'},g,String(v));
    
    
  });
  const ya=mk('line',{x1:o.axisX,x2:o.axisX,y1:y(ticks[ticks.length-1])-o.lw/2,y2:o.y0+o.lw/2,stroke:'#000','stroke-width':o.lw},g);
  
  
  const xa=mk('line',{x1:o.axisX,x2:o.axisEnd,y1:o.y0,y2:o.y0,stroke:'#000','stroke-width':o.lw},g);
  
  
}
const intensityColors=['#000','#9d9da1'];
const intensityErrorColors=['#000','#000'];
const knockColors=['#000','#047a04','#000','#9b0000'];
drawBars('cd8-bars','cd8',intensityCategories,cd8Values,cd8Errors,cd8Ticks,intensityColors,intensityErrorColors,{y0:1398,refVal:10,refY:951.6,axisX:2568,axisEnd:3238,first:2758.5,step:287,barW:191,capW:95,lw:4,labelY:1448,labelFont:34});
drawBars('gins2-bars','gins2',intensityCategories,gins2IntensityValues,gins2IntensityErrors,gins2IntensityTicks,intensityColors,intensityErrorColors,{y0:1961.5,refVal:15,refY:1515,axisX:2570,axisEnd:3240,first:2760,step:286.5,barW:191,capW:95,lw:4,labelY:2010,labelFont:34});
drawBars('pd1-bars','pd1',knockCategories,pd1Values,pd1Errors,pd1BarTicks,knockColors,knockColors,{y0:2627,refVal:20,refY:2205,axisX:2607,axisEnd:3242,first:2703.5,step:146.2,barW:97,capW:49,lw:3.4,labelY:2672,labelFont:32});
drawBars('tim3-bars','tim3',knockCategories,tim3Values,tim3Errors,tim3BarTicks,knockColors,knockColors,{y0:3287.5,refVal:40,refY:2865,axisX:2610,axisEnd:3244,first:2706.5,step:146.2,barW:97,capW:49,lw:3.4,labelY:3333,labelFont:32});

/* ---------- flow plots ---------- */
const flowLevelColour={3:'#30c8ee',4:'#34d8a0',5:'#68e040',6:'#e4e028',7:'#f46014'};
const flowLevelOpacity={3:.4,4:.85,5:1,6:1,7:1};
function drawFlow(key,density,ticks,o){
  const g=mk('g',{},$('flow-plots'));
  
  
  const x=linear(2,o.x2,3,o.x2+o.dec);
  const y=linear(0,o.y0,1,o.y0-o.perM);
  const frame=mk('rect',{x:o.left,y:o.top,width:o.right-o.left,height:o.y0-o.top,fill:'#fff',stroke:'#8a8a8a','stroke-width':1.6},g);
  
  
  const colours=mk('g',{filter:'url(#flow-colour)'},g);
  
  
  const speckle=mk('g',{},g);
  
  
  const logStart=o.logStart, logStep=.15;
  density.forEach((row,r)=>{
    [...row].forEach((ch,c)=>{
      const level=+ch;
      if(!(level>0)) return;
      const xa=x(logStart+c*logStep), xb=x(logStart+(c+1)*logStep);
      const ya=y(o.mTop-r*o.mStep), yb=y(o.mTop-(r+1)*o.mStep);
      if(level>=3){
        const shade=mk('rect',{x:xa,y:ya,width:xb-xa+.4,height:yb-ya+.4,fill:flowLevelColour[level],opacity:flowLevelOpacity[level]},colours);
        
        
      }
      const cell=mk('rect',{x:xa,y:ya,width:xb-xa+.4,height:yb-ya+.4,fill:'url(#flow-level-'+level+')'},speckle);
      
      
    });
  });
  /* y ticks */
  const yMaxTick=ticks[ticks.length-1]+1;
  for(let m=.5;m<=yMaxTick;m+=.5){
    if(ticks.includes(m)) continue;
    if(m*o.perM>o.y0-o.top) continue;
    const t=mk('line',{x1:o.left-4,x2:o.left,y1:y(m),y2:y(m),stroke:'#111','stroke-width':2},g);
    
    
  }
  ticks.forEach(m=>{
    const t=mk('line',{x1:o.left-12,x2:o.left,y1:y(m),y2:y(m),stroke:'#000','stroke-width':3.4},g);
    
    
    const lab=mk('text',{x:o.left-20,y:y(m)+(m===0?1:6),'font-size':16,class:'end'},g,m===0?'0':m.toFixed(1)+'M');
    
    
  });
  /* x ticks */
  for(let d=1;d<=6;d++){
    for(const f of [2,3,4,5,6,7,8,9]){
      const px=x(d+Math.log10(f));
      if(px<o.left+3||px>o.right) continue;
      const t=mk('line',{x1:px,x2:px,y1:o.y0+1,y2:o.y0+7,stroke:'#111','stroke-width':1.6},g);
      
      
    }
  }
  flowDecades.forEach(d=>{
    const t=mk('line',{x1:x(d),x2:x(d),y1:o.y0+1,y2:o.y0+13,stroke:'#000','stroke-width':2.6},g);
    
    
    const lab=mk('text',{x:x(d),y:o.y0+o.labelDy,'font-size':17},g,'10');
    
    
    const sup=mk('text',{x:x(d)+18,y:o.y0+o.labelDy-10,'font-size':16},g,String(d));
    
    
  });
}
const pd1Common={top:2175,y0:2622,perM:58.5,dec:85.6,logStart:1.5,mTop:4.7,mStep:.22,labelDy:39};
const tim3Common={top:2835,y0:3281.5,perM:53.4,dec:86,logStart:1.5,mTop:4.25,mStep:.24,labelDy:39};
drawFlow('pd1-sh-nc',pd1ShNcDensity,pd1FlowTicks,{...pd1Common,left:265,right:713,x2:307.7});
drawFlow('pd1-sh-gins2',pd1ShGins2Density,pd1FlowTicks,{...pd1Common,left:855.5,right:1304,x2:897});
drawFlow('pd1-oe-nc',pd1OeNcDensity,pd1FlowTicks,{...pd1Common,left:1444,right:1891,x2:1486,dec:86.1});
drawFlow('pd1-oe-gins2',pd1OeGins2Density,pd1FlowTicks,{...pd1Common,left:2028,right:2476,x2:2070,dec:86});
drawFlow('tim3-sh-nc',tim3ShNcDensity,tim3FlowTicks,{...tim3Common,left:265,right:713,x2:306});
drawFlow('tim3-sh-gins2',tim3ShGins2Density,tim3FlowTicks,{...tim3Common,left:852,right:1301,x2:895});
drawFlow('tim3-oe-nc',tim3OeNcDensity,tim3FlowTicks,{...tim3Common,left:1440,right:1887.6,x2:1482.7});
drawFlow('tim3-oe-gins2',tim3OeGins2Density,tim3FlowTicks,{...tim3Common,left:2028,right:2477,x2:2071});
</script>
</body>
</html>
